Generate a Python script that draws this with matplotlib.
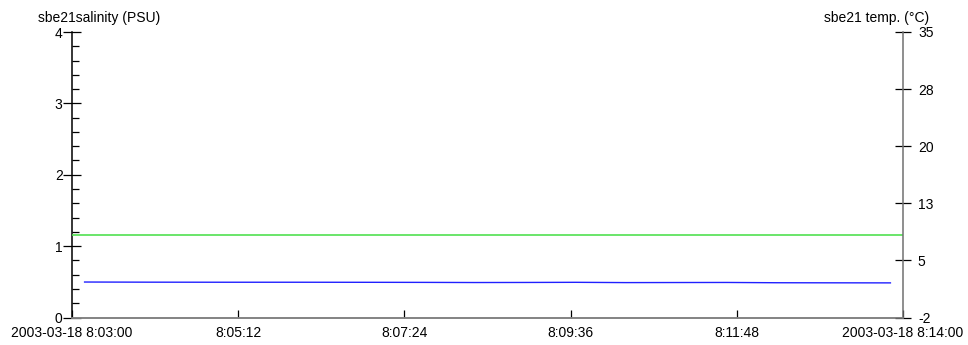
import datetime as dt
import matplotlib
matplotlib.use('Agg')
import matplotlib.pyplot as plt
import matplotlib.dates as mdates
from matplotlib.ticker import FixedLocator, MultipleLocator

plt.rcParams['font.family'] = ['Liberation Sans', 'DejaVu Sans']
plt.rcParams['font.size'] = 10

day = dt.datetime(2003, 3, 18)

# salinity samples (PSU)
sal_times = ['8:03:10', '8:04:00', '8:05:00', '8:06:00', '8:07:00', '8:07:40', '8:08:20',
             '8:09:00', '8:09:40', '8:10:20', '8:11:00', '8:11:40', '8:12:20', '8:13:00', '8:13:50']
sal_values = [0.497, 0.495, 0.494, 0.494, 0.493, 0.492, 0.490, 0.491, 0.493, 0.489,
              0.490, 0.491, 0.487, 0.486, 0.485]

# sbe21 temperature (deg C)
temp_times = ['8:03:00', '8:05:00', '8:07:00', '8:09:00', '8:11:00', '8:14:00']
temp_values = [8.68, 8.68, 8.68, 8.68, 8.68, 8.68]

x_start, x_end = '8:03:00', '8:14:00'
x_ticks = ['8:03:00', '8:05:12', '8:07:24', '8:09:36', '8:11:48', '8:14:00']
temp_ticks = [-2, 5.4, 12.8, 20.2, 27.6, 35]


def at(hms):
    h, m, s = (int(p) for p in hms.split(':'))
    return day.replace(hour=h, minute=m, second=s)


def fmt_time(x, pos=None):
    t = mdates.num2date(x).replace(tzinfo=None)
    label = f'{t.hour}:{t.minute:02d}:{t.second:02d}'
    if pos in (0, len(x_ticks) - 1):
        label = t.strftime('%Y-%m-%d ') + label
    return label


fig = plt.figure(figsize=(9.68, 3.45), dpi=100)
ax = fig.add_axes([72 / 968, 1 - 317.5 / 345, 831 / 968, 285.5 / 345])
ax2 = ax.twinx()

ax.plot([at(t) for t in sal_times], sal_values, color='#2020ff', lw=1.0)
ax2.plot([at(t) for t in temp_times], temp_values, color='#50e050', lw=1.2)

ax.set_xlim(at(x_start), at(x_end))
ax.set_ylim(0, 4)
ax2.set_ylim(-2, 35)

ax.xaxis.set_major_locator(FixedLocator([mdates.date2num(at(t)) for t in x_ticks]))
ax.xaxis.set_major_formatter(plt.FuncFormatter(fmt_time))
ax.tick_params(axis='x', direction='in', length=6, width=0.9, color='black', pad=6)

ax.yaxis.set_major_locator(MultipleLocator(1))
ax.yaxis.set_minor_locator(MultipleLocator(0.2))
ax.tick_params(axis='y', which='major', direction='inout', length=13.5, width=0.9, pad=0)
ax.tick_params(axis='y', which='minor', direction='in', length=5, width=0.9)

ax2.yaxis.set_major_locator(FixedLocator(temp_ticks))
ax2.yaxis.set_major_formatter(plt.FuncFormatter(lambda v, p: f'{v:.0f}'))
ax2.tick_params(axis='y', direction='inout', length=11.5, width=0.9, pad=5)

for a in (ax, ax2):
    a.spines['top'].set_visible(False)
    a.spines['bottom'].set_color('#808080')
    a.spines['bottom'].set_linewidth(1.1)
ax.spines['right'].set_visible(False)
ax2.spines['left'].set_visible(False)
ax.spines['left'].set_color('black')
ax.spines['left'].set_linewidth(1.1)
ax2.spines['right'].set_color('#707070')
ax2.spines['right'].set_linewidth(1.1)

fig.text(99 / 968, 1 - 18 / 345, 'sbe21salinity (PSU)', ha='center', va='center')
fig.text(877 / 968, 1 - 18 / 345, 'sbe21 temp. (°C)', ha='center', va='center')

fig.savefig('out.png', dpi=100)
